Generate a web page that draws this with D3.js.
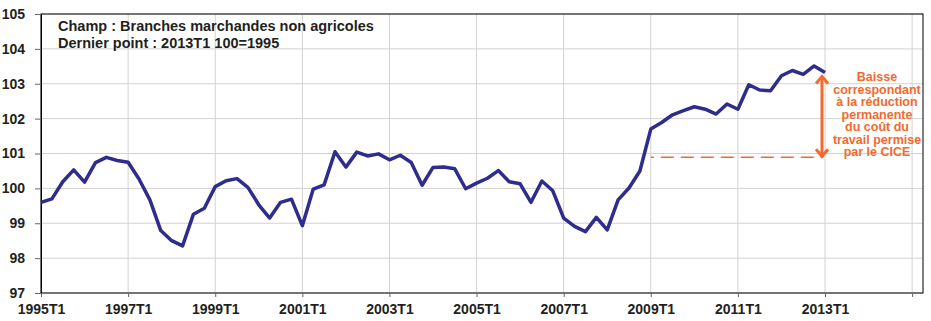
<!DOCTYPE html>
<html>
<head>
<meta charset="utf-8">
<script src="https://cdn.jsdelivr.net/npm/d3@7"></script>
<style>
body { margin: 0; background: #fff; }
text { font-family: "Liberation Sans", Arial, sans-serif; font-weight: bold; }
</style>
</head>
<body>
<div id="chart"></div>
<script>
// indice 100=1995, trimestriel 1995T1 .. 2013T1
const values = [
	99.60, 99.70, 100.19, 100.53, 100.18, 100.74, 100.89, 100.80,
	100.75, 100.27, 99.67, 98.79, 98.50, 98.35, 99.26, 99.43,
	100.05, 100.22, 100.28, 100.03, 99.53, 99.15, 99.60, 99.69,
	98.93, 99.98, 100.10, 101.05, 100.61, 101.04, 100.93, 100.99,
	100.82, 100.95, 100.74, 100.09, 100.60, 100.61, 100.56, 99.99,
	100.15, 100.29, 100.51, 100.19, 100.13, 99.60, 100.21, 99.93,
	99.15, 98.91, 98.76, 99.17, 98.81, 99.67, 100.01, 100.50,
	101.70, 101.89, 102.11, 102.23, 102.34, 102.27, 102.13, 102.42,
	102.27, 102.97, 102.82, 102.80, 103.23, 103.38, 103.27, 103.51,
	103.32
]
const tickIdx = [0, 8, 16, 24, 32, 40, 48, 56, 64, 72, 80]
const tickLabels = ["1995T1", "1997T1", "1999T1", "2001T1", "2003T1", "2005T1", "2007T1", "2009T1", "2011T1", "2013T1", ""]
const yTicks = [97, 98, 99, 100, 101, 102, 103, 104, 105]
const notes = ["Champ : Branches marchandes non agricoles", "Dernier point : 2013T1 100=1995"]
const cice = { from: 56, to: 72, low: 100.89, high: 103.32 }
const ciceText = ["Baisse", "correspondant", "à la réduction", "permanente", "du coût du", "travail permise", "par le CICE"]

const W = 931, H = 321
const mLeft = 41, mRight = 923, mTop = 14, mBottom = 293
const dark = "#231f20", orange = "#f26a2e", blue = "#2e2c8c"

const svg = d3.select("#chart").append("svg").attr("width", W).attr("height", H)

const x = d3.scaleLinear().domain([0, 81]).range([mLeft, mRight])
const y = d3.scaleLinear().domain([97, 105]).range([mBottom, mTop])

// grille
svg.append("g")
	.selectAll("line")
	.data(yTicks)
	.enter()
	.append("line")
	.attr("x1", mLeft).attr("x2", mRight)
	.attr("y1", d => y(d)).attr("y2", d => y(d))
	.attr("stroke", "#d2d2d2")
svg.append("g")
	.selectAll("line")
	.data(tickIdx)
	.enter()
	.append("line")
	.attr("x1", d => x(d)).attr("x2", d => x(d))
	.attr("y1", mTop).attr("y2", mBottom)
	.attr("stroke", "#d2d2d2")

svg.append("rect")
	.attr("x", mLeft).attr("y", mTop)
	.attr("width", mRight - mLeft).attr("height", mBottom - mTop)
	.attr("fill", "none").attr("stroke", "#000")

const yAxis = svg.append("g")
	.attr("transform", `translate(${mLeft},0)`)
	.call(d3.axisLeft(y).tickValues(yTicks).tickSize(6).tickPadding(10))
yAxis.select(".domain").attr("stroke", "#000")
yAxis.selectAll(".tick line").attr("stroke", "#666")
yAxis.selectAll("text").attr("font-size", 14).attr("fill", dark).attr("font-family", null)

const xAxis = svg.append("g")
	.attr("transform", `translate(0,${mBottom})`)
	.call(d3.axisBottom(x).tickValues(tickIdx).tickFormat((d, i) => tickLabels[i]).tickSize(4).tickPadding(7))
xAxis.select(".domain").remove()
xAxis.selectAll(".tick line").attr("stroke", "#666")
xAxis.selectAll("text").attr("font-size", 14).attr("fill", dark).attr("font-family", null)

// série
svg.append("path")
	.datum(values)
	.attr("fill", "none")
	.attr("stroke", blue)
	.attr("stroke-width", 3.5)
	.attr("stroke-linejoin", "round")
	.attr("d", d3.line().x((d, i) => x(i)).y(d => y(d)))

// notes
svg.selectAll(".note")
	.data(notes)
	.enter()
	.append("text")
	.attr("class", "note")
	.attr("x", 58)
	.attr("y", (d, i) => 31 + i * 17)
	.attr("font-size", 14.5)
	.attr("fill", dark)
	.text(d => d)

// annotation CICE
svg.append("line")
	.attr("x1", x(cice.from)).attr("x2", x(cice.to) - 3)
	.attr("y1", y(cice.low)).attr("y2", y(cice.low))
	.attr("stroke", orange).attr("stroke-width", 1.5)
	.attr("stroke-dasharray", "13,7")
	.attr("stroke-dashoffset", 10)

const ax = x(cice.to) - 3
const yTop = y(cice.high) + 3, yBot = y(cice.low)
svg.append("line")
	.attr("x1", ax).attr("x2", ax)
	.attr("y1", yTop).attr("y2", yBot)
	.attr("stroke", orange).attr("stroke-width", 3)
svg.append("path")
	.attr("d", `M${ax - 6},${yTop + 8}L${ax},${yTop + 1}L${ax + 6},${yTop + 8}M${ax - 6},${yBot - 8}L${ax},${yBot - 1}L${ax + 6},${yBot - 8}`)
	.attr("fill", "none").attr("stroke", orange).attr("stroke-width", 3)

svg.selectAll(".cice")
	.data(ciceText)
	.enter()
	.append("text")
	.attr("class", "cice")
	.attr("x", 877)
	.attr("y", (d, i) => 81 + i * 12.5)
	.attr("text-anchor", "middle")
	.attr("font-size", 12.5)
	.attr("fill", orange)
	.text(d => d)
</script>
</body>
</html>
